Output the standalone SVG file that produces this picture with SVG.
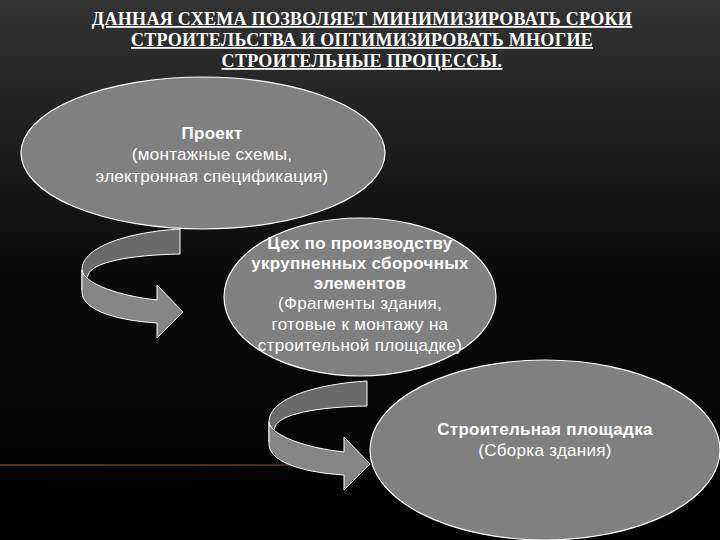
<svg xmlns="http://www.w3.org/2000/svg" width="720" height="540" viewBox="0 0 720 540">
<defs>
<linearGradient id="bg" x1="0" y1="0" x2="0" y2="1">
<stop offset="0" stop-color="#333"/><stop offset="0.5" stop-color="#0a0a0a"/><stop offset="1" stop-color="#000"/>
</linearGradient>
<linearGradient id="gl" x1="0" y1="0" x2="1" y2="0">
<stop offset="0" stop-color="#a06a28" stop-opacity="0.5"/><stop offset="0.5" stop-color="#a06a28" stop-opacity="0.4"/><stop offset="1" stop-color="#a06a28" stop-opacity="0"/>
</linearGradient>
<g id="arr">
<path d="M180,229 L180,254 C130,255 92,262 88,275 L82,290 L82,270 C82,246 130,232 180,229 Z" fill="#6a6a6a" stroke="#fff" stroke-width="1"/>
<path d="M82,270 C84,284 120,296 157,300 L157,285 L183,312 L157,338 L157,323 C110,320 82,308 82,292 Z" fill="#858585" stroke="#fff" stroke-width="1"/>
</g>
</defs>
<style>
.t{font-family:"Liberation Serif",serif;font-weight:bold;font-size:18px;fill:#fff;text-anchor:middle;text-decoration:underline;letter-spacing:0.3px}
.n{font-family:"Liberation Sans",Arial,sans-serif;font-size:17px;fill:#fff;text-anchor:middle;letter-spacing:0.3px}
.b{font-weight:bold}
.e{fill:#808080;stroke:#fff;stroke-width:1.2}
</style>
<rect width="720" height="540" fill="url(#bg)"/>
<rect x="0" y="464" width="720" height="2" fill="url(#gl)"/>
<g id="title">
<text class="t" x="362" y="25">ДАННАЯ СХЕМА ПОЗВОЛЯЕТ МИНИМИЗИРОВАТЬ СРОКИ</text>
<text class="t" x="362" y="46">СТРОИТЕЛЬСТВА И ОПТИМИЗИРОВАТЬ МНОГИЕ</text>
<text class="t" x="362" y="67">СТРОИТЕЛЬНЫЕ ПРОЦЕССЫ.</text>
</g>
<g id="connectors">
<use href="#arr"/>
<use href="#arr" transform="translate(187,152)"/>
</g>
<g id="node1">
<ellipse class="e" cx="203" cy="153" rx="182" ry="76"/>
<text class="n b" x="212" y="139">Проект</text>
<text class="n" x="212" y="160">(монтажные схемы,</text>
<text class="n" x="212" y="182">электронная  спецификация)</text>
</g>
<g id="node2">
<ellipse class="e" cx="360" cy="297" rx="136" ry="79"/>
<text class="n b" x="360" y="249">Цех по производству</text>
<text class="n b" x="360" y="269">укрупненных сборочных</text>
<text class="n b" x="360" y="289">элементов</text>
<text class="n" x="360" y="309">(Фрагменты здания,</text>
<text class="n" x="360" y="330">готовые к монтажу на</text>
<text class="n" x="360" y="351">строительной площадке)</text>
</g>
<g id="node3">
<ellipse class="e" cx="545" cy="450" rx="175" ry="90"/>
<text class="n b" x="545" y="435">Строительная площадка</text>
<text class="n" x="545" y="456">(Сборка здания)</text>
</g>
</svg>
